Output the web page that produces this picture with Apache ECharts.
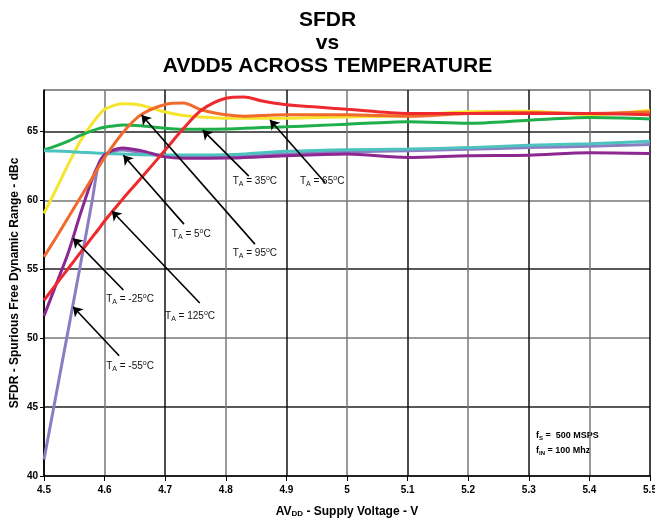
<!DOCTYPE html>
<html>
<head>
<meta charset="utf-8">
<script src="https://cdn.jsdelivr.net/npm/echarts@6/dist/echarts.min.js"></script>
<style>
  html, body { margin: 0; padding: 0; background: #fff; }
  #chart { width: 655px; height: 520px; }
</style>
</head>
<body>
<div id="chart"></div>
<script>
// Supply voltage sample points (V)
const voltage = [4.5, 4.52, 4.54, 4.56, 4.58, 4.59, 4.6, 4.63, 4.66, 4.7, 4.73, 4.76, 4.8, 4.83, 4.86, 4.9, 4.95, 5.0, 5.1, 5.2, 5.3, 5.4, 5.5];

// SFDR (dBc) per ambient temperature
const sfdrM55 = [41.2, 45.9, 50.6, 55.3, 60.1, 62.6, 63.25, 63.65, 63.45, 63.2, 63.15, 63.15, 63.15, 63.2, 63.3, 63.35, 63.45, 63.5, 63.6, 63.7, 63.82, 63.92, 64.05];
const sfdrM25 = [51.6, 53.9, 56.2, 59.0, 61.6, 62.6, 63.3, 63.8, 63.6, 63.15, 63.05, 63.05, 63.06, 63.1, 63.15, 63.23, 63.3, 63.35, 63.1, 63.23, 63.27, 63.45, 63.4];
const sfdr5   = [63.6, 63.57, 63.53, 63.48, 63.44, 63.42, 63.4, 63.35, 63.3, 63.28, 63.28, 63.28, 63.3, 63.35, 63.45, 63.55, 63.62, 63.66, 63.72, 63.82, 64.0, 64.1, 64.28];
const sfdr35  = [63.65, 63.95, 64.3, 64.7, 65.05, 65.2, 65.3, 65.47, 65.4, 65.22, 65.15, 65.15, 65.17, 65.22, 65.28, 65.33, 65.42, 65.52, 65.7, 65.58, 65.8, 66.0, 65.9];
const sfdr65  = [59.05, 60.8, 62.6, 64.3, 65.6, 66.15, 66.6, 67.0, 66.9, 66.4, 66.15, 66.05, 65.95, 65.95, 65.95, 65.95, 66.0, 66.05, 66.15, 66.42, 66.45, 66.2, 66.53];
const sfdr95  = [55.9, 57.3, 58.75, 60.2, 61.65, 62.4, 63.1, 64.9, 66.2, 66.95, 67.05, 66.55, 66.2, 66.1, 66.15, 66.2, 66.2, 66.2, 66.1, 66.3, 66.37, 66.3, 66.4];
const sfdr125 = [52.75, 53.9, 55.05, 56.2, 57.35, 57.9, 58.5, 60.1, 61.6, 63.65, 65.2, 66.55, 67.4, 67.5, 67.2, 66.93, 66.76, 66.6, 66.3, 66.3, 66.3, 66.3, 66.2];

const xTicks = [4.5, 4.6, 4.7, 4.8, 4.9, 5.0, 5.1, 5.2, 5.3, 5.4, 5.5];
const yTicks = [40, 45, 50, 55, 60, 65];

// Callouts: label anchor [V, dBc], arrow tail and tip [V, dBc]
const callouts = {
  '-55': { label: [4.642, 47.98], tail: [4.624, 48.72], tip: [4.548, 52.28] },
  '-25': { label: [4.642, 52.84], tail: [4.631, 53.49], tip: [4.548, 57.24] },
  '5':   { label: [4.743, 57.55], tail: [4.731, 58.27], tip: [4.631, 63.26] },
  '35':  { label: [4.848, 61.38], tail: [4.838, 61.75], tip: [4.762, 65.09] },
  '65':  { label: [4.959, 61.38], tail: [4.964, 61.27], tip: [4.873, 65.82] },
  '95':  { label: [4.848, 56.17], tail: [4.848, 56.82], tip: [4.661, 66.18] },
  '125': { label: [4.741, 51.60], tail: [4.757, 52.55], tip: [4.612, 59.22] }
};

const FONT = 'Liberation Sans, Arial, sans-serif';

const tempRich = {
  t: { fontSize: 10, color: '#111', fontFamily: FONT },
  s: { fontSize: 7, color: '#111', padding: [6, 0, 0, 0], fontFamily: FONT },
  o: { fontSize: 7, color: '#111', padding: [0, 0, 6, 0], fontFamily: FONT }
};

function makeSeries(temp, values, color) {
  const c = callouts[temp];
  return {
    name: temp,
    type: 'line',
    data: voltage.map((v, i) => [v, values[i]]),
    smooth: 0.3,
    showSymbol: false,
    lineStyle: { color: color, width: 3 },
    itemStyle: { color: color },
    markLine: {
      silent: true,
      symbol: ['none', 'arrow'],
      symbolSize: 9,
      label: { show: false },
      lineStyle: { color: '#000', width: 1.6, type: 'solid' },
      data: [[{ coord: c.tail }, { coord: c.tip }]]
    },
    markPoint: {
      silent: true,
      symbol: 'circle',
      symbolSize: 0,
      data: [{
        coord: c.label,
        label: {
          show: true,
          position: 'inside',
          formatter: '{t|T}{s|A}{t| = ' + temp + '}{o|o}{t|C}',
          rich: tempRich
        }
      }]
    }
  };
}

const chart = echarts.init(document.getElementById('chart'), null, { renderer: 'canvas' });

chart.setOption({
  animation: false,
  backgroundColor: '#fff',
  title: {
    text: 'SFDR\nvs\nAVDD5 ACROSS TEMPERATURE',
    left: 'center',
    top: 4,
    textStyle: {
      fontFamily: FONT,
      fontWeight: 'bold',
      fontSize: 21,
      lineHeight: 23,
      color: '#000'
    }
  },
  grid: {
    left: 44, right: 5, top: 90, bottom: 44,
    outerBoundsMode: 'none',
    containLabel: false,
    show: true, borderColor: '#aaa', borderWidth: 1
  },
  xAxis: {
    type: 'value',
    min: 4.5, max: 5.5, interval: 0.1,
    name: '{m|AV}{d|DD}{m| - Supply Voltage - V}',
    nameLocation: 'middle',
    nameGap: 29,
    nameMoveOverlap: false,
    nameTextStyle: {
      rich: {
        m: { fontSize: 12, fontWeight: 'bold', color: '#000', fontFamily: FONT },
        d: { fontSize: 8, fontWeight: 'bold', color: '#000', padding: [5, 0, 0, 0], fontFamily: FONT }
      }
    },
    axisLine: { show: true, lineStyle: { color: '#000', width: 1.5 } },
    axisTick: { show: true, inside: false, length: 5, lineStyle: { color: '#000' } },
    axisLabel: {
      fontSize: 10, fontWeight: 'bold', color: '#000', margin: 9,
      fontFamily: FONT,
      formatter: v => {
        const t = xTicks.find(k => Math.abs(k - v) < 1e-6);
        return t === undefined ? '' : String(+t.toFixed(1));
      }
    },
    splitLine: { show: true, lineStyle: { color: ['#111', '#777'], width: 1.5 } }
  },
  yAxis: {
    type: 'value',
    min: 40, max: 68, interval: 5,
    name: 'SFDR - Spurious Free Dynamic Range - dBc',
    nameLocation: 'middle',
    nameGap: 23,
    nameMoveOverlap: false,
    nameTextStyle: { fontSize: 12, fontWeight: 'bold', color: '#000', fontFamily: FONT },
    axisLine: { show: true, lineStyle: { color: '#000', width: 1.5 } },
    axisTick: { show: true, inside: false, length: 4, lineStyle: { color: '#000' } },
    axisLabel: {
      fontSize: 10, fontWeight: 'bold', color: '#000', margin: 6,
      fontFamily: FONT,
      showMaxLabel: false,
      formatter: v => (yTicks.indexOf(v) >= 0 ? String(v) : '')
    },
    splitLine: { show: true, lineStyle: { color: ['#777', '#222'], width: 1.5 } }
  },
  graphic: [{
    type: 'text',
    left: 536, top: 431,
    style: {
      text: '{b|f}{s|S}{b| =  500 MSPS}\n{b|f}{s|IN}{b| = 100 Mhz}',
      rich: {
        b: { fontSize: 9, fontWeight: 'bold', fill: '#000', lineHeight: 15, fontFamily: FONT },
        s: { fontSize: 6, fontWeight: 'bold', fill: '#000', padding: [4, 0, 0, 0], lineHeight: 15, fontFamily: FONT }
      }
    }
  }],
  series: [
    makeSeries('65', sfdr65, '#f5e52c'),
    makeSeries('35', sfdr35, '#1eae4a'),
    makeSeries('-55', sfdrM55, '#8c7cc2'),
    makeSeries('5', sfdr5, '#4cc3bf'),
    makeSeries('-25', sfdrM25, '#8d2791'),
    makeSeries('95', sfdr95, '#f26a2b'),
    makeSeries('125', sfdr125, '#ee2a2f')
  ]
});
</script>
</body>
</html>
